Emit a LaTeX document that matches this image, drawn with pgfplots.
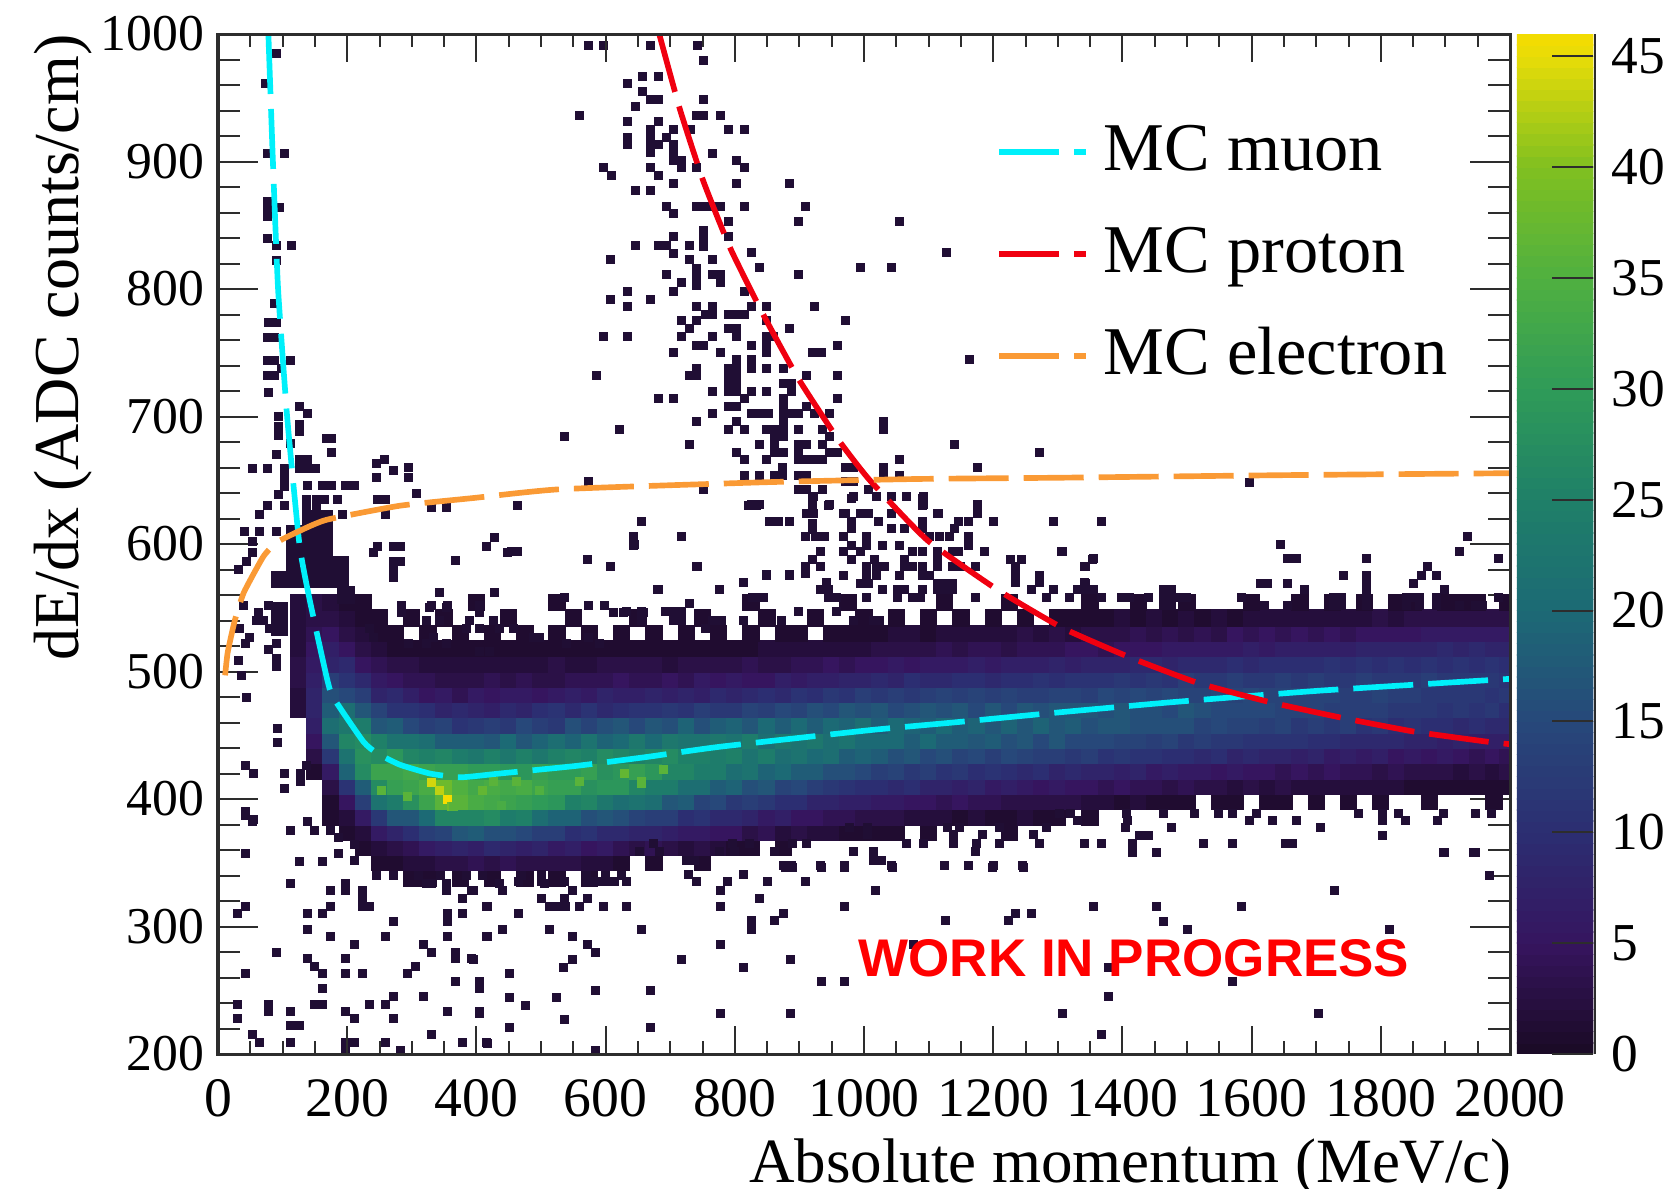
\documentclass[border=0pt]{standalone}
\usepackage{fontspec}
\setmainfont{Liberation Serif}
\newfontfamily\hv{Liberation Sans}
\usepackage{pgfplots}
\usepackage{pgfplotstable}
\pgfplotsset{compat=1.18}
\definecolor{cell}{RGB}{32,14,52}
\definecolor{muon}{RGB}{0,240,250}
\definecolor{prot}{RGB}{240,0,16}
\definecolor{elec}{RGB}{250,154,53}
\definecolor{frame}{RGB}{45,45,45}
\newcommand{\tkf}{\fontsize{16.7}{18}\selectfont}
\newcommand{\ytf}{\fontsize{15.5}{18}\selectfont}
\newcommand{\cbf}{\fontsize{16}{18}\selectfont}
\newcommand{\lgf}{\fontsize{20.5}{24}\selectfont}
\newcommand{\ylf}{\fontsize{19.2}{21}\selectfont}
\newcommand{\xlf}{\fontsize{18.9}{21}\selectfont}
\newcommand{\wip}{\hv\bfseries\fontsize{15.9}{18}\selectfont}
\pgfplotsset{
 colormap={rootvir}{rgb255(0cm)=(26,10,36) rgb255(5cm)=(54,21,95) rgb255(10cm)=(44,46,114) rgb255(15cm)=(39,72,122) rgb255(20cm)=(28,106,117) rgb255(25cm)=(31,128,104) rgb255(30cm)=(47,155,88) rgb255(35cm)=(80,176,64) rgb255(40cm)=(128,192,32) rgb255(45cm)=(232,220,8) rgb255(46cm)=(245,220,0)},
 every axis/.append style={/pgf/number format/assume math mode=true,/pgf/number format/1000 sep={},tick label style={font=\tkf},axis line style={draw=frame,line width=0.9pt},tick style={draw=frame,line width=0.6pt}},
 dcells/.style={only marks,mark=square*,mark size=1.2pt,mark options={draw=cell,fill=cell,line width=0pt},forget plot},
 mapcells/.style={scatter,only marks,mark=square*,scatter/use mapped color={draw=mapped color,fill=mapped color},mark options={line width=0pt},forget plot,point meta=explicit},
}
\pgfplotstableread[header=false]{
125 0 0 0 0 0 0 0 0 0 0 0 0 2 2 3 3 2 2 2 2
150 0 0 0 0 0 0 0 0 1 3 5 7 8 8 7 6 5 4 3 3
175 0 0 0 0 0 1 1 3 6 12 17 21 18 16 13 8 7 5 3 2
200 0 0 0 0 1 2 5 11 19 22 26 23 21 15 11 9 5 3 2 1
225 0 0 0 1 2 6 13 18 27 28 27 24 17 13 9 5 3 2 1 1
250 0 0 1 2 6 12 22 27 32 27 25 17 14 8 6 4 2 1 1 0
275 0 0 1 3 8 17 24 31 32 29 22 18 11 9 5 3 1 1 0 0
300 0 1 2 4 10 17 28 32 33 26 22 15 11 7 4 3 1 0 1 0
325 0 1 2 6 13 20 32 34 32 25 21 13 10 5 4 2 1 1 0 0
350 0 0 3 7 14 26 36 38 31 26 18 14 8 6 3 2 1 0 1 0
375 0 1 3 8 17 26 36 35 31 24 18 11 9 4 3 2 1 1 0 0
400 0 0 4 7 18 26 34 33 30 23 18 12 8 6 3 2 1 0 0 1
425 0 1 3 9 16 27 33 34 30 25 17 13 7 5 4 2 1 1 0 0
450 0 0 4 8 16 24 32 33 29 23 20 12 9 6 3 2 1 0 1 0
475 0 1 3 7 15 25 31 34 29 25 17 15 8 6 4 2 1 1 0 0
500 0 0 3 8 13 21 30 32 31 23 19 13 10 5 3 2 1 0 0 0
525 0 1 3 6 13 19 29 31 30 25 21 12 11 6 3 3 1 1 0 1
550 0 0 3 7 10 19 25 31 30 26 19 16 9 7 4 2 1 0 1 0
575 0 1 2 5 11 16 26 28 31 25 22 14 11 6 4 2 1 1 0 0
600 0 0 2 6 9 17 23 29 28 27 19 16 9 8 4 3 1 0 0 0
625 0 0 1 4 9 16 21 29 29 26 20 17 10 7 5 3 1 1 0 0
650 0 0 0 3 8 14 22 26 31 25 23 15 11 7 4 3 1 0 1 0
675 0 0 1 4 8 13 21 24 29 26 20 17 11 8 4 3 1 1 0 0
700 0 0 0 3 7 13 17 24 26 27 23 16 12 7 5 2 1 0 0 0
725 0 0 0 2 6 10 18 21 26 25 22 19 11 8 4 3 1 1 0 0
750 0 0 1 3 6 11 14 21 24 25 22 16 13 7 6 3 1 0 1 0
775 0 0 0 2 5 9 15 18 24 24 23 18 12 9 5 3 1 1 0 0
800 0 0 0 1 5 9 12 19 21 25 22 19 12 8 6 3 1 0 0 0
825 0 0 0 1 3 8 13 16 22 22 24 17 14 9 5 4 1 1 0 1
850 0 0 0 0 4 6 12 17 19 24 21 20 13 10 5 3 2 0 1 0
875 0 0 0 1 2 7 10 14 20 21 23 18 15 9 7 3 2 1 0 0
900 0 0 0 0 3 5 10 15 18 22 22 20 14 11 6 4 2 1 0 0
925 0 0 0 0 2 5 8 13 18 20 23 18 16 10 7 4 2 0 1 0
950 0 0 0 0 2 4 8 12 16 21 21 20 15 12 7 5 2 1 0 0
975 0 0 0 0 1 4 7 11 16 18 22 19 17 11 8 4 2 1 0 1
1000 0 0 0 0 1 3 7 10 15 19 20 21 16 13 8 5 2 1 1 0
1025 0 0 0 0 1 3 6 10 13 18 20 18 17 12 9 5 3 1 0 0
1050 0 0 0 0 1 3 6 9 14 16 20 20 15 13 8 6 3 2 1 0
1075 0 0 0 0 0 2 5 10 12 17 18 19 16 12 10 5 3 2 0 0
1100 0 0 0 0 1 2 5 8 13 15 20 18 17 13 9 6 3 1 1 0
1125 0 0 0 0 0 2 4 8 11 16 18 20 16 14 9 6 4 2 0 1
1150 0 0 0 0 0 1 5 7 12 14 18 18 17 13 10 6 3 2 1 0
1175 0 0 0 0 0 2 4 8 10 15 17 19 15 14 10 7 4 2 0 0
1200 0 0 0 0 0 1 4 6 11 13 18 17 17 13 9 6 4 2 1 0
1225 0 0 0 0 1 1 3 7 10 15 16 19 15 14 10 7 3 2 0 1
1250 0 0 0 0 0 2 3 6 9 14 17 17 17 13 10 7 4 3 1 0
1275 0 0 0 0 0 1 3 5 10 13 15 19 16 13 11 7 4 2 0 0
1300 0 0 0 0 0 1 3 6 8 13 17 17 17 14 10 8 4 3 1 0
1325 0 0 0 0 0 0 3 5 9 12 15 18 17 14 11 7 5 2 1 0
1350 0 0 0 0 0 1 2 5 8 13 15 16 17 13 11 8 5 3 1 1
1375 0 0 0 0 0 0 2 4 8 11 15 17 16 15 11 8 4 3 1 0
1400 0 0 0 0 0 0 1 5 7 12 14 17 17 14 12 8 5 3 2 0
1425 0 0 0 0 0 0 2 4 8 11 14 16 16 15 11 9 5 4 1 1
1450 0 0 0 0 0 0 1 4 6 11 13 16 16 14 12 9 5 3 2 0
1475 0 0 0 0 0 0 1 3 7 10 14 16 15 15 11 8 6 4 1 0
1500 0 0 0 0 0 0 1 4 6 10 12 16 17 14 13 9 6 3 2 1
1525 0 0 0 0 0 0 0 3 6 9 13 14 16 14 12 9 6 4 1 0
1550 0 0 0 0 0 0 1 3 5 10 12 15 15 15 12 9 6 3 2 0
1575 0 0 0 0 0 0 1 2 6 8 12 14 15 14 13 10 6 5 1 0
1600 0 0 0 0 0 0 0 3 5 9 11 14 15 15 12 9 7 4 2 1
1625 0 0 0 0 0 0 1 2 5 8 11 13 15 14 12 10 6 5 2 0
1650 0 0 0 0 0 0 1 3 4 8 11 14 14 14 13 10 7 4 2 0
1675 0 0 0 0 0 0 0 2 5 7 11 12 14 14 12 10 7 5 2 1
1700 0 0 0 0 0 0 1 2 4 8 10 13 14 14 13 10 7 4 2 0
1725 0 0 0 0 0 0 0 2 5 6 10 12 13 14 12 11 7 5 2 1
1750 0 0 0 0 0 0 1 2 4 7 9 13 13 13 12 10 7 4 2 0
1775 0 0 0 0 0 0 0 2 4 6 9 11 13 13 13 11 8 5 2 1
1800 0 0 0 0 0 0 1 2 3 7 9 12 13 14 12 10 8 5 3 0
1825 0 0 0 0 0 0 0 2 4 5 9 10 12 13 12 11 8 5 2 1
1850 0 0 0 0 0 0 0 1 3 6 8 11 12 13 12 10 8 5 3 1
1875 0 0 0 0 0 0 1 1 3 5 8 10 12 12 13 11 8 6 3 0
1900 0 0 0 0 0 0 0 1 3 6 7 10 11 12 12 10 9 6 3 1
1925 0 0 0 0 0 0 0 1 2 5 8 9 12 12 12 11 8 6 3 1
1950 0 0 0 0 0 0 0 1 3 4 7 10 11 12 12 10 9 6 3 1
1975 0 0 0 0 0 0 1 1 2 5 7 9 12 11 12 11 8 6 3 0
1997 0 0 0 0 0 0 0 1 3 4 7 9 10 12 11 10 8 6 3 1
}\band
\begin{document}
\begin{tikzpicture}
\path[use as bounding box] (-65.4pt,-40.2pt) rectangle (434.1pt,316.2pt);
\begin{axis}[
 at={(0,0)},anchor=south west,scale only axis,width=387.6pt,height=306pt,
 xmin=0,xmax=2000,ymin=200,ymax=1000,
 clip mode=individual,clip marker paths=true,
 xtick=\empty,ytick={200,300,...,1000},minor y tick num=4,
 tick align=inside,major tick length=12pt,minor tick length=6.6pt,
 ylabel={dE/dx (ADC counts/cm)},
 every axis y label/.style={at={(axis description cs:-0.120,1)},rotate=90,anchor=east,inner sep=0pt,font=\ylf},
 yticklabel style={xshift=-0.6pt,font=\ytf},
 colormap name=rootvir,point meta min=0,point meta max=46,
 colorbar sampled,
 colorbar style={samples=93,at={(parent axis.north east)},xshift=-6.5pt,anchor=north west,width=23pt,
   ytick={0,5,...,45},yticklabel pos=right,ytick pos=right,tick align=inside,major tick length=12.5pt,
   axis line style={draw=none},yticklabel style={font=\cbf,xshift=2pt}},
 legend style={at={(0.602,0.926)},anchor=north west,draw=none,fill=none,font=\lgf,row sep=5.6pt,inner sep=0pt,nodes={text height=16pt,text depth=5pt},/tikz/every odd column/.append style={column sep=2.5pt}},
 legend cell align=left,
 legend image code/.code={\draw[#1] (0cm,0cm) -- (26pt,0cm);},
]
\pgfplotsinvokeforeach{1,...,20}{
 \addplot[mapcells,mark size=2.45pt]
  table[x index=0,y expr={\thisrowno{#1}>0 ? 314+12*#1 : nan},meta index=#1] {\band};
}
\addplot[dcells] coordinates {
(43,387)(54,382)(113,375)(138,382)(149,375)(174,375)(187,370)(43,357)(126,351)(162,351)(187,357)(211,364)(211,352)(113,334)(174,328)(198,334)(198,328)(223,328)(223,322)(223,316)(235,316)(174,316)(43,316)(30,310)(139,310)(162,310)(272,304)(139,298)(174,292)(259,292)(211,286)(90,280)(139,275)(149,269)(162,263)(198,275)(198,263)(223,263)(43,263)(162,251)(30,239)(78,239)(78,233)(113,233)(149,239)(162,239)(198,233)(211,228)(235,239)(259,239)(272,245)(272,228)(30,228)(113,222)(126,222)(54,215)(64,209)(113,209)(198,209)(198,203)(211,209)(259,209)(283,203)(318,245)(294,263)(306,269)(318,286)(331,280)(356,310)(356,304)(356,292)(379,310)(415,316)(415,292)(368,280)(368,275)(392,275)(368,257)(405,257)(405,251)(356,233)(405,233)(331,215)(379,209)(415,209)(354,334)(354,328)(379,322)(392,328)(331,334)
(417,316)(465,310)(441,298)(513,298)(417,292)(549,292)(572,286)(585,280)(395,274)(549,274)(535,268)(452,263)(585,250)(452,244)(476,238)(524,244)(405,232)(536,227)(452,221)(417,208)(585,203)(669,250)(669,221)(717,274)(656,298)(633,316)(597,316)(778,316)(778,286)(778,232)(814,268)(886,274)(886,232)(934,257)(970,257)(826,305)(826,298)(862,305)(875,310)(838,322)(970,316)(1018,328)(1126,305)(1224,305)(1235,310)(1077,286)(728,341)(741,335)(778,328)(789,335)(814,341)(850,335)(910,335)(879,346)(890,346)(934,346)(970,346)(1044,346)(1199,346)(500,341)(500,335)(465,335)(441,328)(395,328)(536,335)(549,328)(572,335)(586,335)(600,335)(614,335)(633,335)(500,322)(513,316)(525,316)(538,316)(536,322)(560,316)(572,322)
(1247,346)(1355,316)(1452,316)(1584,316)(1416,358)(1452,358)(1897,358)(1944,358)(1969,340)(1729,328)(1464,304)(1500,298)(1813,298)(1259,310)(1379,268)(1570,257)(1379,245)(1307,232)(1704,232)(1367,215)
(1342,365)(1368,365)(1416,365)(1525,365)(1571,365)(1652,365)(1664,365)(1898,358)(1946,358)(1453,358)(1427,371)(1440,371)(1802,371)(1405,378)(1476,378)(1706,378)(1331,383)(1408,383)(1597,383)(1633,383)(1670,383)(1802,383)(1838,383)(1887,383)(1303,389)(1320,389)(1407,389)(1464,389)(1512,389)(1548,389)(1571,389)(1608,389)(1765,389)(1802,389)(1827,389)(1897,389)(1946,389)(1972,389)
(573,991)(597,991)(669,991)(743,991)(752,979)(657,967)(682,967)(634,961)(657,955)(669,949)(682,949)(752,949)(646,943)(560,936)(741,936)(752,936)(778,936)(634,931)(682,931)(669,925)(705,925)(731,925)(790,925)(815,925)(634,919)(634,913)(669,919)(669,913)(669,907)(694,919)(682,913)(705,913)(705,907)(705,901)(718,901)(718,895)(765,906)(803,901)(815,895)(597,895)(609,889)(669,895)(682,889)(741,895)(705,883)(803,883)(885,883)(646,877)(669,877)(694,865)(705,859)(741,865)(752,865)(765,865)(778,865)(815,865)(910,865)(790,853)(898,853)(1055,853)(752,846)(752,840)(752,833)(705,841)(790,841)(646,834)(682,834)(695,834)(730,834)(705,828)(826,829)(1127,829)(608,823)(730,823)(765,823)(741,816)(741,810)(741,803)(838,817)(995,817)(1043,817)(694,811)(765,811)(778,811)(778,805)(898,811)(718,805)(705,798)(634,798)(815,798)(608,792)(669,792)(634,786)(741,786)(765,786)(826,786)(849,786)(923,786)(754,780)(765,780)(790,780)(803,780)(815,780)(718,775)(741,775)(849,775)(971,775)(790,769)(803,769)(730,769)(885,769)(718,763)(765,763)(803,763)(597,763)(634,763)(849,763)(860,763)(741,756)(752,756)(826,756)(849,756)(959,756)(705,750)(778,750)(849,750)(921,750)(934,750)(1163,745)(803,745)(826,745)(741,738)(730,732)(741,732)(790,738)(803,738)(790,732)(803,732)(849,738)(875,738)(826,738)(586,732)(911,732)(959,732)(790,726)(803,726)(875,726)(888,726)(765,720)(826,720)(849,720)(790,720)(803,720)(888,720)(682,714)(705,714)(959,714)(875,714)(815,714)(790,708)(803,708)(875,708)(911,708)(765,702)(826,702)(839,702)(852,702)(875,702)(888,702)(898,702)(947,702)(924,702)(741,696)(803,696)(875,696)(1030,696)(1030,690)(621,690)(790,690)(815,690)(849,690)(862,690)(875,690)(898,690)(935,690)(537,684)(862,684)(875,684)(947,684)(730,678)(838,678)(862,678)(898,678)(911,678)(935,678)(1140,678)(1272,672)(802,672)(862,672)(875,672)(898,672)(947,672)(959,672)(815,666)(849,666)(898,666)(911,666)(924,666)(935,666)(1055,666)(971,660)(984,660)(1030,660)(1175,660)(874,660)(815,654)(838,654)(862,654)(874,654)(898,654)(911,654)(1030,654)(1055,654)(573,649)(971,649)(984,649)(752,643)(898,643)(911,643)(935,643)(1007,643)(983,637)(1020,637)(1043,637)(1066,637)(1092,637)(922,637)(826,631)(838,631)(946,631)(1092,631)(1175,631)(922,624)(911,624)(971,624)(994,624)(1007,624)(1043,624)(1115,624)(1175,624)
(464,630)(821,630)(834,630)(921,636)(921,630)(921,616)(945,630)(969,624)(981,636)(655,618)(853,618)(868,618)(884,618)(921,611)(910,606)(925,606)(939,606)(981,618)(995,624)(1022,618)(1090,636)(1090,630)(1114,624)(1176,630)(1161,618)(1146,618)(1200,618)(1294,618)(1043,612)(1063,612)(1090,618)(1090,612)(1102,606)(1117,606)(1132,606)(1140,612)(1161,606)(1161,599)(969,606)(981,612)(981,599)(1004,606)(1004,599)(1028,599)(1055,599)(643,606)(643,599)(717,606)(454,594)(463,594)(933,594)(921,588)(933,582)(910,582)(910,577)(969,594)(981,588)(995,594)(1016,588)(1063,588)(1075,594)(1090,594)(1114,594)(1114,588)(1137,594)(1146,594)(1187,594)(1306,594)(572,588)(608,582)(741,582)(849,575)(884,575)(1004,582)(1019,582)(1031,582)(1004,575)(1019,575)(1063,582)(1075,582)(1090,582)(1114,582)(1137,582)(1149,582)(1173,582)(1226,588)(1244,588)(1235,582)(1235,577)(1342,582)(1354,588)(969,575)(995,569)(1007,569)(1055,575)(1090,575)(1102,575)(814,570)(682,564)(776,564)(942,570)(933,564)(945,564)(945,558)(957,558)(1028,564)(1052,564)(1063,564)(1090,564)(1114,569)(1126,569)(1137,569)(1114,564)(1126,564)(1137,564)(1235,570)(1271,575)(1271,570)(1259,564)(1294,564)(1342,570)(1330,564)(1342,564)(1354,564)(537,558)(827,558)(839,558)(1004,558)(1052,558)(1075,558)(1087,558)(1173,558)(1283,558)(1318,558)
(90,985)(74,961)(76,906)(103,906)(76,869)(76,863)(76,857)(95,864)(77,840)(90,834)(114,834)(90,822)(88,789)(78,774)(90,774)(76,762)(88,762)(76,744)(88,744)(113,744)(76,732)(88,732)(78,719)(98,738)(93,700)(93,692)(93,685)(126,708)(139,702)(126,694)(126,688)(113,679)(168,683)(175,683)(175,672)(90,670)(54,659)(77,659)(103,659)(126,666)(139,666)(126,659)(139,659)(151,659)(103,652)(103,645)(93,639)(139,646)(162,646)(175,646)(198,646)(211,646)(245,663)(245,652)(258,666)(271,658)(295,660)(295,652)(307,640)(247,635)(260,635)(260,623)(330,629)(354,629)(77,630)(64,623)(103,630)(137,635)(152,635)(165,635)(137,628)(152,628)(185,635)(193,623)(41,610)(64,610)(54,602)(54,593)(90,610)(428,605)(415,598)(448,593)(367,587)(44,586)(31,580)(240,593)(247,598)(271,598)(283,598)(271,586)(283,586)(271,580)(271,574)(343,562)(327,550)(353,550)(428,562)(405,550)
(39,552)(62,546)(78,552)(34,534)(49,527)(42,522)(91,522)(78,517)(91,510)(91,504)(31,509)(36,497)(44,480)(92,455)(92,444)(43,426)(55,420)(103,420)(103,408)(127,420)(127,414)(137,426)(43,390)(55,384)(60,540)(70,540)(80,534)
(681,564)(742,582)(777,564)(814,570)(831,558)(844,558)(849,576)(885,576)(645,600)(632,547)(656,547)(656,540)(692,547)(705,547)(717,547)(730,553)(705,540)(717,540)(766,540)(779,540)(754,534)(814,540)(873,540)(898,547)(958,547)(983,540)(1014,540)(1024,540)
(1368,618)(1597,648)(1308,594)(1355,589)(1343,582)(1644,600)(1656,589)(1669,589)(1778,589)(1934,606)(1922,594)(1982,589)(1873,582)(1863,575)(1886,575)(1850,569)(1742,575)(1778,575)(1778,569)(1778,564)(1778,557)(1778,552)(1613,569)(1625,569)(1656,569)(1682,564)(1343,569)(1331,564)(1343,564)(1355,564)(1318,558)(1368,558)(1398,558)(1411,558)(1440,558)(1463,564)(1476,564)(1463,558)(1476,558)(1489,558)(1499,558)(1463,552)(1476,552)(1584,558)(1620,552)(1656,552)(1726,558)(1739,558)(1899,564)(1886,558)(1840,558)(1850,558)(1860,558)(1726,552)(1739,552)(1886,552)(1840,552)(1860,552)(1982,558)(1922,552)(1946,552)(1958,552)
(323,540)(343,540)(390,540)(426,540)(235,534)(385,534)(405,534)(436,534)(457,534)(284,552)(331,552)(356,552)(405,552)(573,552)(599,552)(284,546)(405,546)(612,546)(627,546)(658,546)(240,527)(333,527)(488,527)(573,527)(498,527)(295,522)(323,522)(354,522)(540,522)(591,522)(405,516)(421,516)
(246,340)(271,340)(310,340)(322,334)(345,340)(385,340)(410,340)(435,334)(470,340)(505,334)(570,340)(600,340)(625,340)
(674,365)(797,365)(823,365)(890,365)(911,365)(1066,365)(1092,365)(1138,365)(1174,365)(1210,365)(1272,365)(653,359)(684,359)(777,359)(800,359)(862,359)(983,359)(1014,359)(1172,359)(978,378)(1006,378)(1130,378)(1148,378)(1210,378)(1282,378)(1006,372)(1138,372)(1184,372)(1262,372)(725,352)(738,352)(1014,352)(1027,352)(875,348)(888,348)(932,348)(970,348)(1042,348)(1125,348)(1161,348)(1200,348)(1246,348)
};
\addplot[dcells,mark size=2.45pt] coordinates {(118,572)(118,584)(118,596)(118,608)(143,572)(143,584)(143,596)(143,608)(143,620)(165,572)(165,584)(165,596)(165,608)(165,620)(95,572)(190,572)(190,584)(198,560)(95,548)(95,535)};
\addplot[mapcells,mark size=1.2pt] table[x index=0,y index=1,meta index=2] {
330 413 44
343 407 43
356 400 46
362 394 38
253 407 36
294 402 36
410 407 37
426 414 36
462 414 36
498 407 35
560 414 36
364 394 36
439 395 34
656 414 36
689 423 36
630 420 37
656 412 36
};
\addplot[muon,line width=1.7pt,dash pattern=on 18pt off 4.5pt,smooth,tension=0.3] coordinates {(78,1000)(85,900)(93,800)(107,700)(126,600)(142,556)(168,496)(178,480)(225,445)(246,436)(281,427)(328,420)(375,417)(436,420)(555,426)(664,433)(777,441)(1009,454)(1138,460)(1303,468)(1478,476)(1706,485)(1992,494)(2000,494)};
\addlegendentry{MC muon}
\addplot[prot,line width=1.7pt,dash pattern=on 18pt off 4.5pt,smooth,tension=0.3] coordinates {(683,1000)(715,941)(751,885)(793,832)(844,780)(898,730)(960,682)(1009,650)(1098,603)(1207,564)(1308,534)(1412,511)(1517,491)(1628,476)(1737,464)(1850,453)(1964,445)(2000,443)};
\addlegendentry{MC proton}
\addplot[elec,line width=1.7pt,dash pattern=on 18pt off 4.5pt,smooth,tension=0.3] coordinates {(11,497)(15,515)(26,540)(40,562)(70,590)(90,601)(125,610)(168,619)(281,630)(394,636)(531,643)(850,648.5)(1082,651)(1303,652)(1648,654)(1989,655.5)(2000,655.5)};
\addlegendentry{MC electron}
\node[text=red,font=\wip] at (axis cs:1418,275) {WORK IN PROGRESS};
\end{axis}
\draw[frame,line width=0.8pt] (413.1pt,0pt)--(413.1pt,306pt);
\begin{axis}[
 at={(0,0)},anchor=south west,scale only axis,width=387.6pt,height=306pt,
 xmin=0,xmax=2000,ymin=200,ymax=1000,
 ytick=\empty,xtick={0,200,...,2000},minor x tick num=3,
 tick align=inside,major tick length=8.4pt,minor tick length=3.8pt,
 xticklabel style={yshift=-4pt},
 xlabel={Absolute momentum (MeV/c)},
 every axis x label/.style={at={(axis description cs:1.002,-0.111)},anchor=east,inner sep=0pt,font=\xlf},
]
\end{axis}
\end{tikzpicture}
\end{document}
